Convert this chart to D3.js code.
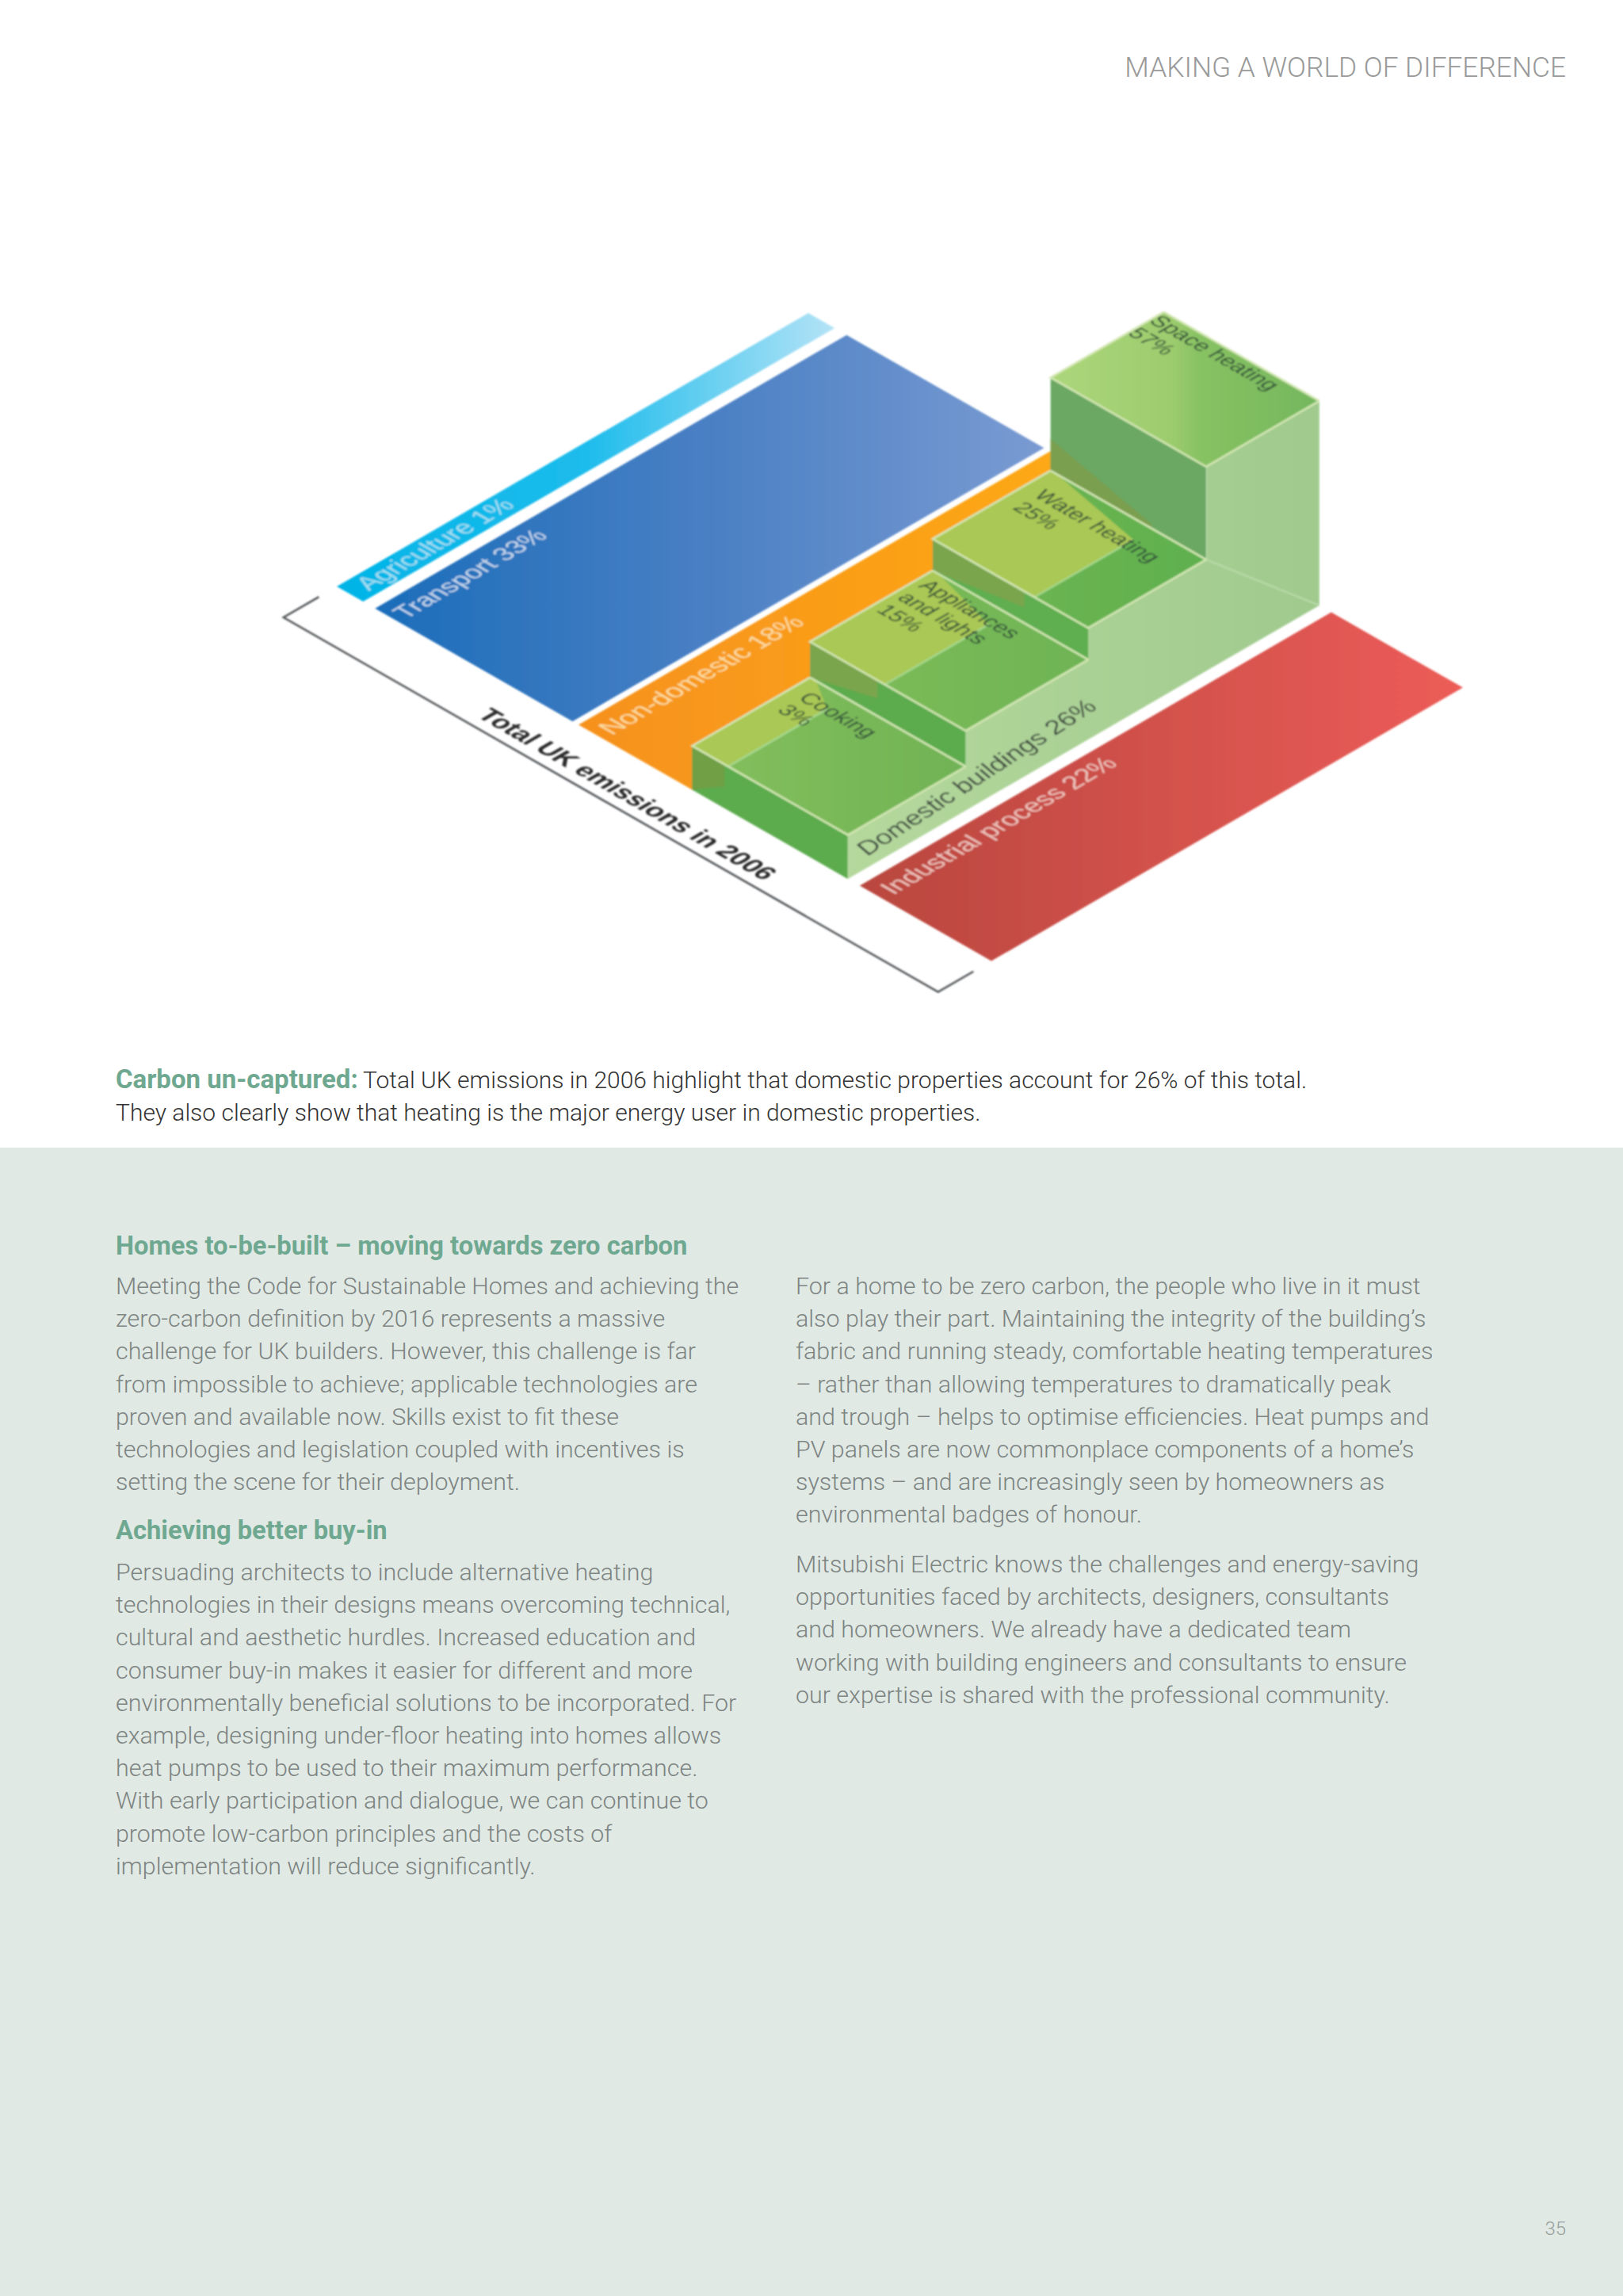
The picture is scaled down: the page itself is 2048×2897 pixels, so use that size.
<!DOCTYPE html>
<html>
<head>
<meta charset="utf-8">
<script src="https://cdn.jsdelivr.net/npm/d3@7"></script>
<style>
	html, body { margin: 0; padding: 0; background: #fff; }
	svg { display: block; }
	.body-text { font-family: Roboto, 'Liberation Sans', sans-serif; }
	.iso { font-family: 'Liberation Sans', Arial, sans-serif; }
</style>
</head>
<body>
<div id="chart"></div>
<script>
// emissions by sector, percent of the 2006 total
const sectors = ['Agriculture', 'Transport', 'Non-domestic', 'Domestic buildings', 'Industrial process'];
const sectorShares = [1, 33, 18, 26, 22];

// domestic split, drawn as four stairs
const stepShares = [3, 15, 25, 57];
const stepLabels = [['Cooking'], ['Appliances', 'and lights'], ['Water heating'], ['Space heating']];
// the stairs are not to scale with their share
const stepRises = [21.5, 17.5, 15.5, 45.5];
const stepDepths = [25, 26, 25, 24];

const captionLead = 'Carbon un-captured:';
const captionLines = [
	'Total UK emissions in 2006 highlight that domestic properties account for 26% of this total.',
	'They also clearly show that heating is the major energy user in domestic properties.'
];
const headingOne = 'Homes to-be-built – moving towards zero carbon';
const headingTwo = 'Achieving better buy-in';
const paragraphOne = [
	'Meeting the Code for Sustainable Homes and achieving the',
	'zero-carbon definition by 2016 represents a massive',
	'challenge for UK builders. However, this challenge is far',
	'from impossible to achieve; applicable technologies are',
	'proven and available now. Skills exist to fit these',
	'technologies and legislation coupled with incentives is',
	'setting the scene for their deployment.'
];
const paragraphTwo = [
	'Persuading architects to include alternative heating',
	'technologies in their designs means overcoming technical,',
	'cultural and aesthetic hurdles. Increased education and',
	'consumer buy-in makes it easier for different and more',
	'environmentally beneficial solutions to be incorporated. For',
	'example, designing under-floor heating into homes allows',
	'heat pumps to be used to their maximum performance.',
	'With early participation and dialogue, we can continue to',
	'promote low-carbon principles and the costs of',
	'implementation will reduce significantly.'
];
const paragraphThree = [
	'For a home to be zero carbon, the people who live in it must',
	'also play their part. Maintaining the integrity of the building’s',
	'fabric and running steady, comfortable heating temperatures',
	'– rather than allowing temperatures to dramatically peak',
	'and trough – helps to optimise efficiencies. Heat pumps and',
	'PV panels are now commonplace components of a home’s',
	'systems – and are increasingly seen by homeowners as',
	'environmental badges of honour.'
];
const paragraphFour = [
	'Mitsubishi Electric knows the challenges and energy-saving',
	'opportunities faced by architects, designers, consultants',
	'and homeowners. We already have a dedicated team',
	'working with building engineers and consultants to ensure',
	'our expertise is shared with the professional community.'
];

const width = 2048;
const height = 2897;
const origin = { x: 425, y: 740 };
const minBandWidth = 4.4;
const bandGaps = [2, 1, 0, 2, 0];

const svg = d3.select('#chart').append('svg').attr('width', width).attr('height', height);
const defs = svg.append('defs');

defs.append('filter').attr('id', 'soft').attr('x', '-5%').attr('y', '-5%').attr('width', '110%').attr('height', '110%')
	.append('feGaussianBlur').attr('stdDeviation', 1.1);

const addGradient = (id, stops, x2 = 1, y2 = 0) => {
	const g = defs.append('linearGradient').attr('id', id).attr('x1', 0).attr('y1', 0).attr('x2', x2).attr('y2', y2);
	stops.forEach(s => g.append('stop').attr('offset', s[0]).attr('stop-color', s[1]));
};
addGradient('grad-agri', [[0, '#00b4e6'], [0.5, '#1dbcec'], [1, '#b4e3f6']]);
addGradient('grad-transport', [[0, '#1b6dba'], [0.5, '#4a80c4'], [1, '#7a9bd2']]);
addGradient('grad-orange', [[0, '#f6911e'], [1, '#ffae12']]);
addGradient('grad-red', [[0, '#b9473f'], [1, '#ec5c58']]);
addGradient('grad-side', [[0, '#b5d89d'], [1, '#a0ca8e']]);
addGradient('grad-top0', [[0, '#86bf5c'], [1, '#70b356']]);
addGradient('grad-top1', [[0, '#80bd59'], [1, '#6eb455']]);
addGradient('grad-top2', [[0, '#72b753'], [1, '#5fb04f']]);
addGradient('grad-top3', [[0, '#add67b'], [0.45, '#9dcc6e'], [0.55, '#88c263'], [1, '#74b75d']]);

// skewed projection: u runs across the sectors, v along them, h straight up
const xU = d3.scaleLinear().domain([0, 100]).range([0, 755]);
const yU = d3.scaleLinear().domain([0, 100]).range([0, 432]);
const xV = d3.scaleLinear().domain([0, 100]).range([0, 595]);
const yV = d3.scaleLinear().domain([0, 100]).range([0, -345]);
const hScale = d3.scaleLinear().domain([0, 100]).range([0, 258]);
const P = (u, v, h = 0) => [origin.x + xU(u) + xV(v), origin.y + yU(u) + yV(v) - hScale(h)];
const pathOf = d3.line().x(d => d[0]).y(d => d[1]);
const closed = pts => pathOf(pts) + 'Z';

// page furniture
svg.append('rect').attr('x', 0).attr('y', 1448).attr('width', width).attr('height', height - 1448).attr('fill', '#e0e9e4');

const chart = svg.append('g').attr('filter', 'url(#soft)');

const bands = [];
let cursor = 0;
sectorShares.forEach((share, i) => {
	const w = Math.max(share, minBandWidth);
	bands.push({ name: sectors[i], share, u0: cursor, u1: cursor + w });
	cursor += w + bandGaps[i];
});
bands[2].u1 += 1;
bands[3].u0 += 1;
bands[3].u1 += 1;
bands[4].u0 += 1;
bands[4].u1 += 1;

const bandFills = ['url(#grad-agri)', 'url(#grad-transport)', 'url(#grad-orange)', null, 'url(#grad-red)'];
bands.forEach((b, i) => {
	if (!bandFills[i]) return;
	chart.append('path')
		.attr('d', closed([P(b.u0, 0), P(b.u1, 0), P(b.u1, 100), P(b.u0, 100)]))
		.attr('fill', bandFills[i]);
});

// stairs
const dom = bands[3];
const stairs = [];
let vAt = 0;
let hAt = 0;
stepRises.forEach((rise, i) => {
	stairs.push({ i, v0: vAt, v1: vAt + stepDepths[i], h0: hAt, h1: hAt + rise });
	vAt += stepDepths[i];
	hAt += rise;
});

const riserColor = ['#5cab4e', '#5cab4e', '#5fae50', '#6aa863'];
const riserShade = ['#6f9f45', '#7aa54e', '#7aa54e', '#7a9f50'];
const yellowWidth = [6, 12.5, 17, 0];
const edgeColor = '#d3e7b4';

// side wall of the whole block
const sidePts = [P(dom.u1, 0, 0)];
stairs.forEach(s => {
	sidePts.push(P(dom.u1, s.v0, s.h1));
	sidePts.push(P(dom.u1, s.v1, s.h1));
});
sidePts.push(P(dom.u1, vAt, 0));
chart.append('path').attr('d', closed(sidePts)).attr('fill', 'url(#grad-side)');
const lastStair = stairs[3];
chart.append('path')
	.attr('d', pathOf([P(dom.u1, lastStair.v0, lastStair.h0), P(dom.u1, vAt, 0)]))
	.attr('stroke', '#bcdcaa').attr('stroke-width', 2).attr('fill', 'none');
chart.append('path')
	.attr('d', pathOf([P(dom.u1, stairs[3].v0, stairs[3].h1), P(dom.u1, stairs[3].v0, stairs[3].h0)]))
	.attr('stroke', '#c8e2b8').attr('stroke-width', 2).attr('fill', 'none');

[...stairs].reverse().forEach(s => {
	const i = s.i;
	// riser
	chart.append('path')
		.attr('d', closed([P(dom.u0, s.v0, s.h0), P(dom.u1, s.v0, s.h0), P(dom.u1, s.v0, s.h1), P(dom.u0, s.v0, s.h1)]))
		.attr('fill', riserColor[i]);
	const shadeW = i === 3 ? 17 : yellowWidth[i] * 0.9;
	chart.append('path')
		.attr('d', closed(i === 3
			? [P(dom.u0, s.v0, s.h0), P(dom.u0 + shadeW, s.v0, s.h0), P(dom.u0 + shadeW, s.v0, s.h0 + 2), P(dom.u0, s.v0, s.h1 - 30)]
			: [P(dom.u0, s.v0, s.h0), P(dom.u0 + shadeW, s.v0, s.h1 - (s.h1 - s.h0) * 0.5), P(dom.u0 + shadeW, s.v0, s.h1), P(dom.u0, s.v0, s.h1)]))
		.attr('fill', riserShade[i]);
	// tread
	chart.append('path')
		.attr('d', closed([P(dom.u0, s.v0, s.h1), P(dom.u1, s.v0, s.h1), P(dom.u1, s.v1, s.h1), P(dom.u0, s.v1, s.h1)]))
		.attr('fill', `url(#grad-top${i})`);
	if (yellowWidth[i]) {
		chart.append('path')
			.attr('d', closed([P(dom.u0, s.v0, s.h1), P(dom.u0 + yellowWidth[i], s.v0, s.h1), P(dom.u0 + yellowWidth[i], s.v1 - 4, s.h1), P(dom.u0 + 1, s.v1, s.h1), P(dom.u0, s.v1, s.h1)]))
			.attr('fill', '#aac855');
		chart.append('path')
			.attr('d', pathOf([P(dom.u0 + yellowWidth[i], s.v0, s.h1), P(dom.u0 + yellowWidth[i], s.v1 - 4, s.h1)]))
			.attr('stroke', '#a6d88c').attr('stroke-width', 2.5).attr('fill', 'none');
	}
	// pale outline of the tread
	chart.append('path')
		.attr('d', pathOf([P(dom.u0, s.v1, s.h1), P(dom.u0, s.v0, s.h1), P(dom.u1, s.v0, s.h1), P(dom.u1, s.v1, s.h1)]))
		.attr('stroke', edgeColor).attr('stroke-width', 2.5).attr('fill', 'none');
	chart.append('path')
		.attr('d', pathOf([P(dom.u0, s.v1, s.h1), P(dom.u1, s.v1, s.h1)]))
		.attr('stroke', edgeColor).attr('stroke-width', 2.5).attr('fill', 'none');
});

// bracket under the sectors
const bracketV = -11.3;
const bracketTick = -3.8;
const bracketEnd = cursor + 1;
chart.append('path')
	.attr('d', pathOf([P(0, bracketTick), P(0, bracketV), P(bracketEnd, bracketV), P(bracketEnd, bracketTick)]))
	.attr('stroke', '#4f5356').attr('stroke-width', 2.5).attr('fill', 'none');

// skewed labels, baseline along v (band labels) or along u (stair labels)
const basisV = [0.865, -0.502, 0.868, 0.497];
const basisU = [0.868, 0.497, -0.865, 0.502];
const basisSteep = [0.84, -0.54, 0.868, 0.497];
const isoText = (pos, basis, lines, size, fill, opts = {}) => {
	const t = chart.append('text')
		.attr('class', 'iso')
		.attr('transform', `matrix(${basis.join(' ')} ${pos[0]} ${pos[1]})`)
		.attr('font-size', size)
		.attr('fill', fill)
		.attr('font-weight', opts.weight || 400)
		.attr('font-style', opts.style || 'normal');
	lines.forEach((line, i) => {
		t.append('tspan').attr('x', 0).attr('y', i * size * 1.12).text(line);
	});
};

const bandText = d => `${d.name} ${d.share}%`;
isoText(P(bands[0].u0 + 3.4, 2.5), basisV, [bandText(bands[0])], 33, '#a6dff2');
isoText(P(bands[1].u0 + 4.2, 1.2), basisV, [bandText(bands[1])], 32, '#c4d6ec');
isoText(P(bands[2].u0 + 4.4, 1.5), basisV, [bandText(bands[2])], 33.5, '#fbdca0');
isoText(P(bands[3].u1 - 1.6, 6.4, 0), basisSteep, [bandText(bands[3])], 32.5, '#3d4a40', { style: 'italic' });
isoText(P(bands[4].u0 + 4.2, 1.8), basisV, [bandText(bands[4])], 32.5, '#eec4bd');

const stepAnchor = [[2, 5.25], [1, 4.5], [2.2, 6.6], [0.1, 3.5]];
stairs.forEach(s => {
	const a = stepAnchor[s.i];
	const lines = stepLabels[s.i].concat(`${stepShares[s.i]}%`);
	isoText(P(dom.u0 + a[0], s.v1 - a[1], s.h1), basisU, lines, 27.5, '#33503a');
});

isoText(P(30.5, -9.2), basisU, ['Total UK emissions in 2006'], 32.5, '#2c2c2c', { weight: 700 });

// page text
const addLine = (txt, x, y, size, fill, weight = 300, anchor = 'start') => svg.append('text')
	.attr('class', 'body-text')
	.attr('x', x).attr('y', y)
	.attr('font-size', size)
	.attr('fill', fill)
	.attr('font-weight', weight)
	.attr('text-anchor', anchor)
	.text(txt);

const leftX = 146;
const rightX = 1004;
const lineStep = 41.2;
const bodyColor = '#7d8482';
const greenColor = '#6fa890';
const bodySize = 30.4;
const headingSize = 32.7;

addLine('MAKING A WORLD OF DIFFERENCE', 1976, 97, 35.3, '#9a9a9a', 300, 'end');
addLine('35', 1976, 2820, 24, '#98a09d', 300, 'end');

addLine(captionLead, leftX, 1373, 33, greenColor, 700);
addLine(captionLines[0], 458, 1373, 30, '#333');
addLine(captionLines[1], leftX, 1414, 30, '#333');

addLine(headingOne, leftX, 1583, headingSize, greenColor, 700);
paragraphOne.forEach((l, i) => addLine(l, leftX, 1633 + i * lineStep, bodySize, bodyColor));
addLine(headingTwo, leftX, 1942, headingSize, greenColor, 700);
paragraphTwo.forEach((l, i) => addLine(l, leftX, 1994 + i * lineStep, bodySize, bodyColor));
paragraphThree.forEach((l, i) => addLine(l, rightX, 1633 + i * lineStep, bodySize, bodyColor));
paragraphFour.forEach((l, i) => addLine(l, rightX, 1984 + i * lineStep, bodySize, bodyColor));
</script>
</body>
</html>
